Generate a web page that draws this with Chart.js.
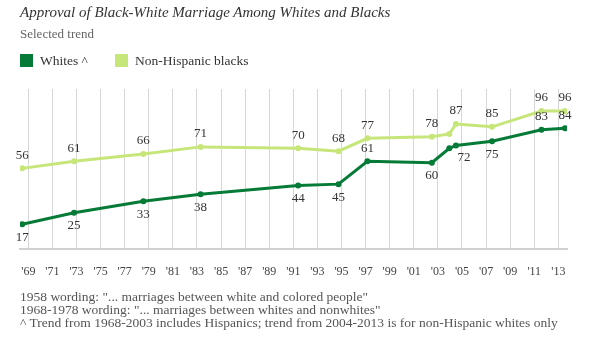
<!DOCTYPE html>
<html>
<head>
<meta charset="utf-8">
<script src="https://cdn.jsdelivr.net/npm/chart.js@4/dist/chart.umd.min.js"></script>
<style>
    body { margin: 0; background: #fff; }
    #wrap { position: relative; width: 596px; height: 350px; font-family: "Liberation Serif", serif; }
    #wrap div.txt { position: absolute; left: 20px; white-space: nowrap; }
    #title { top: 4px; font-size: 15px; font-style: italic; color: #333; }
    #subtitle { top: 26px; font-size: 13px; color: #666; }
    #legend { top: 53px; font-size: 13.5px; color: #333; }
    #legend span.box { display: inline-block; width: 13px; height: 13px; vertical-align: -2px; margin-right: 7px; }
    #notes { top: 290px; font-size: 13.5px; color: #555; line-height: 13px; }
    #chart { position: absolute; left: 0; top: 0; }
</style>
</head>
<body>
<div id="wrap">
    <canvas id="chart" width="596" height="350"></canvas>
    <div class="txt" id="title">Approval of Black-White Marriage Among Whites and Blacks</div>
    <div class="txt" id="subtitle">Selected trend</div>
    <div class="txt" id="legend"><span class="box" style="background:#067a37"></span>Whites ^<span class="box" style="background:#c6e67a; margin-left:27px"></span>Non-Hispanic blacks</div>
    <div class="txt" id="notes">1958 wording: "... marriages between white and colored people"<br>1968-1978 wording: "... marriages between whites and nonwhites"<br>^ Trend from 1968-2003 includes Hispanics; trend from 2004-2013 is for non-Hispanic whites only</div>
</div>
<script>
// survey dates (decimal years)
var surveyDates = [1968.5, 1972.8, 1978.55, 1983.3, 1991.4, 1994.75, 1997.15, 2002.5, 2003.95, 2004.5, 2007.5, 2011.6, 2013.55];
var whites = [17, 25, 33, 38, 44, 45, 61, 60, 70, 72, 75, 83, 84];
var blacks = [56, 61, 66, 71, 70, 68, 77, 78, 80, 87, 85, 96, 96];
// where each value label sits: a = above, b = below, br = below right, "" = none
var whitesLabelPos = ["b", "b", "b", "b", "b", "b", "a", "b", "", "br", "b", "a", "a"];
var blacksLabelPos = ["a", "a", "a", "a", "a", "a", "a", "a", "", "a", "a", "a", "a"];

var tickYears = [1969, 1971, 1973, 1975, 1977, 1979, 1981, 1983, 1985, 1987, 1989, 1991, 1993, 1995, 1997, 1999, 2001, 2003, 2005, 2007, 2009, 2011, 2013];
var tickLabels = ["'69", "'71", "'73", "'75", "'77", "'79", "'81", "'83", "'85", "'87", "'89", "'91", "'93", "'95", "'97", "'99", "'01", "'03", "'05", "'07", "'09", "'11", "'13"];

function toPoints(vals) {
    return vals.map(function (v, i) { return {x: surveyDates[i], y: v}; });
}

var valueLabels = {
    id: 'valueLabels',
    afterDatasetsDraw: function (chart) {
        var ctx = chart.ctx;
        ctx.save();
        ctx.font = '13px "Liberation Serif", serif';
        ctx.fillStyle = '#333';
        ctx.textAlign = 'center';
        ctx.textBaseline = 'middle';
        chart.data.datasets.forEach(function (ds, di) {
            var meta = chart.getDatasetMeta(di);
            meta.data.forEach(function (pt, i) {
                var pos = ds.labelPos[i];
                if (!pos) return;
                var dx = 0, dy = 0;
                if (pos == 'a') dy = -13;
                if (pos == 'b') dy = 13;
                if (pos == 'br') { dx = 8; dy = 12; }
                ctx.fillText(String(ds.data[i].y), pt.x + dx, pt.y + dy);
            });
        });
        ctx.restore();
    }
};

var ctx = document.getElementById('chart');

var myChart = new Chart(ctx, {
    type: 'line',
    data: {
        datasets: [
            {
                label: "Non-Hispanic blacks",
                data: toPoints(blacks),
                labelPos: blacksLabelPos,
                borderColor: '#c6e67a',
                backgroundColor: '#c6e67a',
                borderWidth: 3,
                pointRadius: 3,
                pointBorderWidth: 0,
                tension: 0
            },
            {
                label: "Whites ^",
                data: toPoints(whites),
                labelPos: whitesLabelPos,
                borderColor: '#067a37',
                backgroundColor: '#067a37',
                borderWidth: 3,
                pointRadius: 3,
                pointBorderWidth: 0,
                tension: 0
            }]
    },
    options: {
        responsive: false,
        animation: false,
        layout: { padding: { left: 20, right: 29, top: 89, bottom: 55 } },
        plugins: {
            legend: { display: false },
            tooltip: { enabled: false }
        },
        scales: {
            x: {
                type: 'linear',
                min: 1968.31,
                max: 2013.72,
                afterBuildTicks: function (axis) {
                    axis.ticks = tickYears.map(function (y) { return {value: y}; });
                },
                ticks: {
                    autoSkip: false,
                    maxRotation: 0,
                    padding: 16,
                    color: '#444',
                    font: { family: '"Liberation Serif", serif', size: 12 },
                    callback: function (value) { return tickLabels[tickYears.indexOf(value)]; }
                },
                grid: { color: '#d6d6d6', lineWidth: 1, drawTicks: false },
                border: { display: true, color: '#d0d0d0', width: 2 }
            },
            y: {
                display: false,
                min: 0,
                max: 111.4
            }
        }
    },
    plugins: [valueLabels]
});
</script>
</body>
</html>
